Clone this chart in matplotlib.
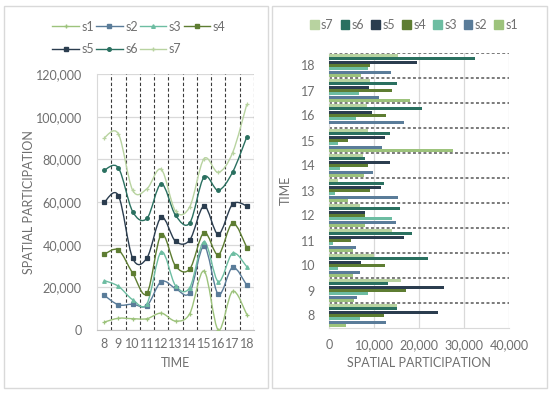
import numpy as np
import matplotlib
matplotlib.use('Agg')
import matplotlib.pyplot as plt
from matplotlib.path import Path
from matplotlib.patches import PathPatch, Patch, Rectangle
from matplotlib.lines import Line2D

plt.rcParams['font.family'] = ['Lato', 'DejaVu Sans']

# data (hours 8..18)
times = [8, 9, 10, 11, 12, 13, 14, 15, 16, 17, 18]
s1 = [3700, 5500, 5300, 5300, 7900, 4200, 7700, 27600, 0, 18100, 7200]
s2 = [12600, 6300, 6800, 6100, 14800, 15300, 9800, 11700, 16700, 11200, 13700]
s3 = [6900, 8700, 2100, 900, 13900, 1300, 2400, 2100, 6000, 6700, 8700]
s4 = [12300, 17000, 12400, 4900, 8100, 9200, 8700, 4300, 12600, 14100, 9000]
s5 = [24300, 25500, 7000, 16600, 8100, 11600, 13600, 12400, 9600, 8900, 19600]
s6 = [15100, 13000, 21900, 18500, 15700, 12200, 8000, 13600, 20600, 15000, 32400]
s7 = [15200, 15900, 10000, 13900, 6800, 1900, 7600, 8600, 8400, 9100, 15300]

names = ['s1', 's2', 's3', 's4', 's5', 's6', 's7']
series = [s1, s2, s3, s4, s5, s6, s7]
colors = ['#9dc37c', '#5a7c99', '#6dbda2', '#5e7d32', '#2b3d4f', '#2a7060', '#b8d3a0']
markers = ['+', 's', '^', 's', 's', 'o', '+']

txt = '#6f6f6f'
fs = 9

fig = plt.figure(figsize=(5.5, 3.94), dpi=100)
fig.patches.append(Rectangle((4/550, 6/394), 264/550, 382/394, transform=fig.transFigure,
                             fill=False, edgecolor='#d9d9d9', lw=1))
fig.patches.append(Rectangle((272/550, 6/394), 275/550, 382/394, transform=fig.transFigure,
                             fill=False, edgecolor='#d9d9d9', lw=1))


def smooth_path(x, y):
    # excel-like smoothed line: bezier segments through the points
    x = np.asarray(x, float)
    y = np.asarray(y, float)
    n = len(x)
    verts = [(x[0], y[0])]
    codes = [Path.MOVETO]
    for i in range(n - 1):
        i0 = max(i - 1, 0)
        i3 = min(i + 2, n - 1)
        c1 = (x[i] + (x[i + 1] - x[i0]) / 6, y[i] + (y[i + 1] - y[i0]) / 6)
        c2 = (x[i + 1] - (x[i3] - x[i]) / 6, y[i + 1] - (y[i3] - y[i]) / 6)
        verts += [c1, c2, (x[i + 1], y[i + 1])]
        codes += [Path.CURVE4] * 3
    return Path(verts, codes)


# ---- left: stacked smoothed lines
ax1 = fig.add_axes([97/550, 64/394, 157/550, 256/394])
xs = np.arange(len(times))
cum = np.cumsum(np.array(series), axis=0)
handles = []
for k in range(7):
    ax1.add_patch(PathPatch(smooth_path(xs, cum[k]), fill=False, edgecolor=colors[k], lw=1.0, zorder=3))
    ax1.plot(xs, cum[k], ls='none', marker=markers[k], ms=2.6, color=colors[k], mew=0.9, zorder=4)
    handles.append(Line2D([], [], color=colors[k], lw=1.0, marker=markers[k], ms=2.6))

ax1.set_xlim(-0.5, 10.5)
ax1.set_ylim(0, 120000)
ax1.set_yticks(np.arange(0, 120001, 20000))
ax1.set_yticklabels(['{:,}'.format(v) for v in range(0, 120001, 20000)])
ax1.set_xticks(xs)
ax1.set_xticklabels([str(t) for t in times])
ax1.grid(axis='y', color='#d9d9d9', lw=0.9)
for b in np.arange(0.5, 10.6, 1):
    ax1.axvline(b, color='#3a3a3a', ls=(0, (3, 2)), lw=0.8, zorder=2)
for s in ['top', 'right']:
    ax1.spines[s].set_visible(False)
ax1.spines['left'].set_color('#d9d9d9')
ax1.spines['bottom'].set_color('#bfbfbf')
ax1.tick_params(axis='y', length=0, labelsize=fs, colors=txt, pad=11)
ax1.tick_params(axis='x', length=0, labelsize=fs, colors=txt, pad=6)
ax1.set_axisbelow(True)
ax1.set_xlabel('TIME', fontsize=fs, color=txt, labelpad=5)
ax1.set_ylabel('SPATIAL PARTICIPATION', fontsize=fs, color=txt, labelpad=0)

order = [0, 4, 1, 5, 2, 6, 3]
fig.legend([handles[i] for i in order], [names[i] for i in order], ncol=4,
           loc='center', bbox_to_anchor=(139/550, 1 - 38/394), frameon=False,
           fontsize=fs, labelcolor=txt, handlelength=2.1, handletextpad=0.2,
           columnspacing=0.2, labelspacing=0.85)

# ---- right: grouped horizontal bars
ax2 = fig.add_axes([329/550, 66/394, 180/550, 275/394])
step = 0.133
for k in range(7):
    ax2.barh(xs + (k - 3) * step, series[k], height=0.11, color=colors[k], zorder=3)
ax2.set_ylim(-0.5, 10.5)
ax2.set_xlim(0, 40000)
ax2.set_xticks(np.arange(0, 40001, 10000))
ax2.set_xticklabels(['{:,}'.format(v) for v in range(0, 40001, 10000)])
ax2.set_yticks(xs)
ax2.set_yticklabels([str(t) for t in times])
ax2.grid(axis='x', color='#d9d9d9', lw=0.9)
for b in np.arange(0.5, 10.6, 1):
    ax2.axhline(b, color='#7a7a7a', ls=(0, (1.5, 1.2)), lw=1.4, zorder=2)
for s in ['top', 'right']:
    ax2.spines[s].set_visible(False)
ax2.spines['left'].set_color('#d9d9d9')
ax2.spines['bottom'].set_color('#d9d9d9')
ax2.tick_params(axis='y', length=0, labelsize=fs, colors=txt, pad=10)
ax2.tick_params(axis='x', length=0, labelsize=fs, colors=txt, pad=8)
ax2.set_axisbelow(True)
ax2.set_xlabel('SPATIAL PARTICIPATION', fontsize=fs, color=txt, labelpad=4)
ax2.set_ylabel('TIME', fontsize=fs, color=txt, labelpad=6)

ph = [Patch(color=colors[k]) for k in range(6, -1, -1)]
fig.legend(ph, names[::-1], ncol=7, loc='center', bbox_to_anchor=(414/550, 1 - 25/394),
           frameon=False, fontsize=fs, labelcolor=txt, handlelength=0.7, handleheight=0.7,
           handletextpad=0.2, columnspacing=0.55)

fig.savefig('out.png', dpi=100)
